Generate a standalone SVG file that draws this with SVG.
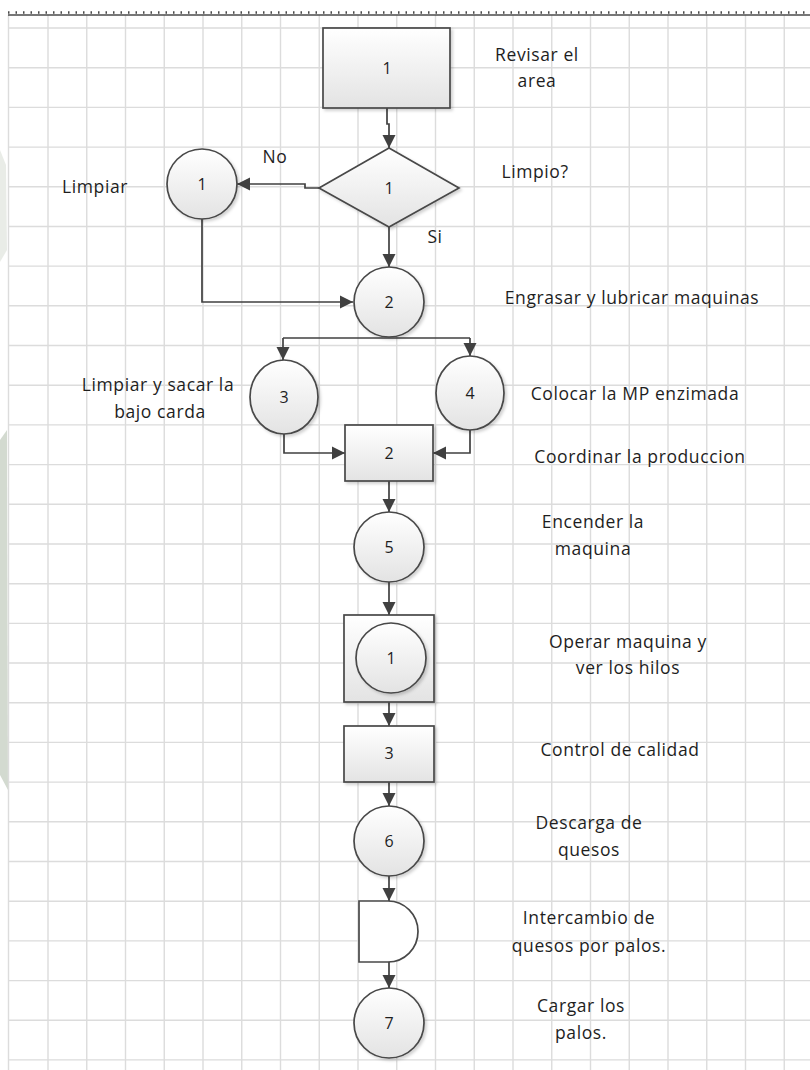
<svg xmlns="http://www.w3.org/2000/svg" width="810" height="1070" viewBox="0 0 810 1070">
  <defs>
    <linearGradient id="fillGrad" x1="0" y1="0" x2="0" y2="1">
      <stop offset="0" stop-color="#ffffff"/>
      <stop offset="1" stop-color="#e3e3e3"/>
    </linearGradient>
    <filter id="shadow" x="-20%" y="-20%" width="150%" height="150%">
      <feDropShadow dx="2" dy="2" stdDeviation="1.5" flood-color="#000000" flood-opacity="0.18"/>
    </filter>
    <marker id="arrow" markerUnits="userSpaceOnUse" markerWidth="14" markerHeight="14" refX="13" refY="7" orient="auto">
      <path d="M0 0.5 L13 7 L0 13.5 Z" fill="#404040"/>
    </marker>
    <style>
      .grid { fill: none; stroke: #dcdcdc; stroke-width: 1.4; }
      .shape { fill: url(#fillGrad); stroke: #484848; stroke-width: 1.7; filter: url(#shadow); }
      .plain { fill: #ffffff; stroke: #484848; stroke-width: 1.7; }
      .conn { fill: none; stroke: #404040; stroke-width: 1.7; marker-end: url(#arrow); }
      .line { fill: none; stroke: #404040; stroke-width: 1.7; }
      .lbl { font-family: "Open Sans", "Liberation Sans", sans-serif; font-size: 17.5px; fill: #1e1e1e; letter-spacing: 0.6px; text-anchor: middle; }
      .num { font-family: "Open Sans", "Liberation Sans", sans-serif; font-size: 16px; fill: #1e1e1e; text-anchor: middle; }
    </style>
  </defs>

  <!-- page background -->
  <rect x="0" y="0" width="810" height="1070" fill="#ffffff"/>

  <!-- faint watermark strip on the left margin -->
  <g id="watermark" fill="#d3dad0">
    <path d="M0 150 L6 165 L7 250 L0 262 Z" opacity="0.5"/>
    <path d="M0 440 L7 430 L8 790 L0 775 Z"/>
  </g>

  <!-- drawing grid -->
  <g id="grid" class="grid">
    <path d="M8.5 15 V1070 M48 15 V1070 M86.75 15 V1070 M125.5 15 V1070 M164.25 15 V1070 M203 15 V1070 M241.75 15 V1070 M280.5 15 V1070 M319.25 15 V1070 M358 15 V1070 M396.75 15 V1070 M435.5 15 V1070 M474.25 15 V1070 M513 15 V1070 M551.75 15 V1070 M590.5 15 V1070 M629.25 15 V1070 M668 15 V1070 M706.75 15 V1070 M745.5 15 V1070 M784.25 15 V1070"/>
    <path d="M8 28 H810 M8 67.7 H810 M8 107.4 H810 M8 147.1 H810 M8 186.8 H810 M8 226.5 H810 M8 266.1 H810 M8 305.8 H810 M8 345.5 H810 M8 385.2 H810 M8 424.9 H810 M8 464.6 H810 M8 504.3 H810 M8 544 H810 M8 583.7 H810 M8 623.4 H810 M8 663 H810 M8 702.7 H810 M8 742.4 H810 M8 782.1 H810 M8 821.8 H810 M8 861.5 H810 M8 901.2 H810 M8 940.9 H810 M8 980.6 H810 M8 1020.3 H810 M8 1059.9 H810"/>
  </g>

  <!-- top ruler edge -->
  <g id="ruler">
    <line x1="8" y1="15" x2="810" y2="15" stroke="#4a4a4a" stroke-width="1.6"/>
    <line x1="8" y1="12.5" x2="810" y2="12.5" stroke="#4a4a4a" stroke-width="2.5" stroke-dasharray="1.5 6"/>
  </g>

  <!-- connectors -->
  <g id="connectors">
    <path class="conn" d="M387 108 V124 H389 V148"/>
    <path class="conn" d="M319 188 H305 V184 H237"/>
    <path class="conn" d="M389 227 V267"/>
    <path class="conn" d="M202 219 V302 H353"/>
    <path class="line" d="M283 338 H470"/>
    <path class="conn" d="M283 338 V360"/>
    <path class="conn" d="M470 338 V356"/>
    <path class="conn" d="M284 434 V453 H345"/>
    <path class="conn" d="M470 430 V453 H433"/>
    <path class="conn" d="M389 481 V512"/>
    <path class="conn" d="M389 582 V615"/>
    <path class="conn" d="M389 702 V726"/>
    <path class="conn" d="M389 782 V806"/>
    <path class="conn" d="M389 876 V901"/>
    <path class="conn" d="M389 962 V988"/>
  </g>

  <!-- operation box 1 -->
  <g id="op-box-1">
    <rect class="shape" x="323" y="28" width="127" height="80"/>
    <text class="num" x="387" y="74">1</text>
  </g>
  <text class="lbl" x="537" y="61">Revisar el</text>
  <text class="lbl" x="537" y="87">area</text>

  <!-- decision 1 -->
  <g id="decision-1">
    <polygon class="shape" points="389,148 459,188 389,227 319,188"/>
    <text class="num" x="389" y="194">1</text>
  </g>
  <text class="lbl" x="535" y="178">Limpio?</text>
  <text class="lbl" x="275" y="163">No</text>
  <text class="lbl" x="435" y="243">Si</text>

  <!-- operation circle: limpiar -->
  <g id="op-circle-limpiar">
    <circle class="shape" cx="202" cy="184" r="35"/>
    <text class="num" x="202" y="190">1</text>
  </g>
  <text class="lbl" x="95" y="193">Limpiar</text>

  <!-- operation circle 2 -->
  <g id="op-circle-2">
    <circle class="shape" cx="389" cy="302" r="35"/>
    <text class="num" x="389" y="308">2</text>
  </g>
  <text class="lbl" x="632" y="304">Engrasar y lubricar maquinas</text>

  <!-- operation circle 3 -->
  <g id="op-circle-3">
    <ellipse class="shape" cx="284" cy="397" rx="34" ry="37"/>
    <text class="num" x="284" y="403">3</text>
  </g>
  <text class="lbl" x="158" y="391">Limpiar y sacar la</text>
  <text class="lbl" x="160" y="418">bajo carda</text>

  <!-- operation circle 4 -->
  <g id="op-circle-4">
    <ellipse class="shape" cx="470" cy="393" rx="34" ry="37"/>
    <text class="num" x="470" y="399">4</text>
  </g>
  <text class="lbl" x="635" y="400">Colocar la MP enzimada</text>

  <!-- inspection box 2 -->
  <g id="insp-box-2">
    <rect class="shape" x="345" y="425" width="88" height="56"/>
    <text class="num" x="389" y="459">2</text>
  </g>
  <text class="lbl" x="640" y="463">Coordinar la produccion</text>

  <!-- operation circle 5 -->
  <g id="op-circle-5">
    <circle class="shape" cx="389" cy="547" r="35"/>
    <text class="num" x="389" y="553">5</text>
  </g>
  <text class="lbl" x="593" y="528">Encender la</text>
  <text class="lbl" x="593" y="555">maquina</text>

  <!-- combined operation / inspection 1 -->
  <g id="combined-1">
    <rect class="shape" x="344" y="615" width="90" height="87"/>
    <circle class="shape" cx="391" cy="658" r="35"/>
    <text class="num" x="391" y="664">1</text>
  </g>
  <text class="lbl" x="628" y="648">Operar maquina y</text>
  <text class="lbl" x="628" y="674">ver los hilos</text>

  <!-- inspection box 3 -->
  <g id="insp-box-3">
    <rect class="shape" x="344" y="726" width="90" height="56"/>
    <text class="num" x="389" y="759">3</text>
  </g>
  <text class="lbl" x="620" y="756">Control de calidad</text>

  <!-- operation circle 6 -->
  <g id="op-circle-6">
    <circle class="shape" cx="389" cy="841" r="35"/>
    <text class="num" x="389" y="847">6</text>
  </g>
  <text class="lbl" x="589" y="829">Descarga de</text>
  <text class="lbl" x="589" y="856">quesos</text>

  <!-- delay -->
  <g id="delay">
    <path class="plain" d="M359 901 H388 A30 30.5 0 0 1 388 962 H359 Z"/>
  </g>
  <text class="lbl" x="589" y="924">Intercambio de</text>
  <text class="lbl" x="589" y="952">quesos por palos.</text>

  <!-- operation circle 7 -->
  <g id="op-circle-7">
    <circle class="shape" cx="389" cy="1023" r="35"/>
    <text class="num" x="389" y="1029">7</text>
  </g>
  <text class="lbl" x="581" y="1012">Cargar los</text>
  <text class="lbl" x="581" y="1039">palos.</text>
</svg>
